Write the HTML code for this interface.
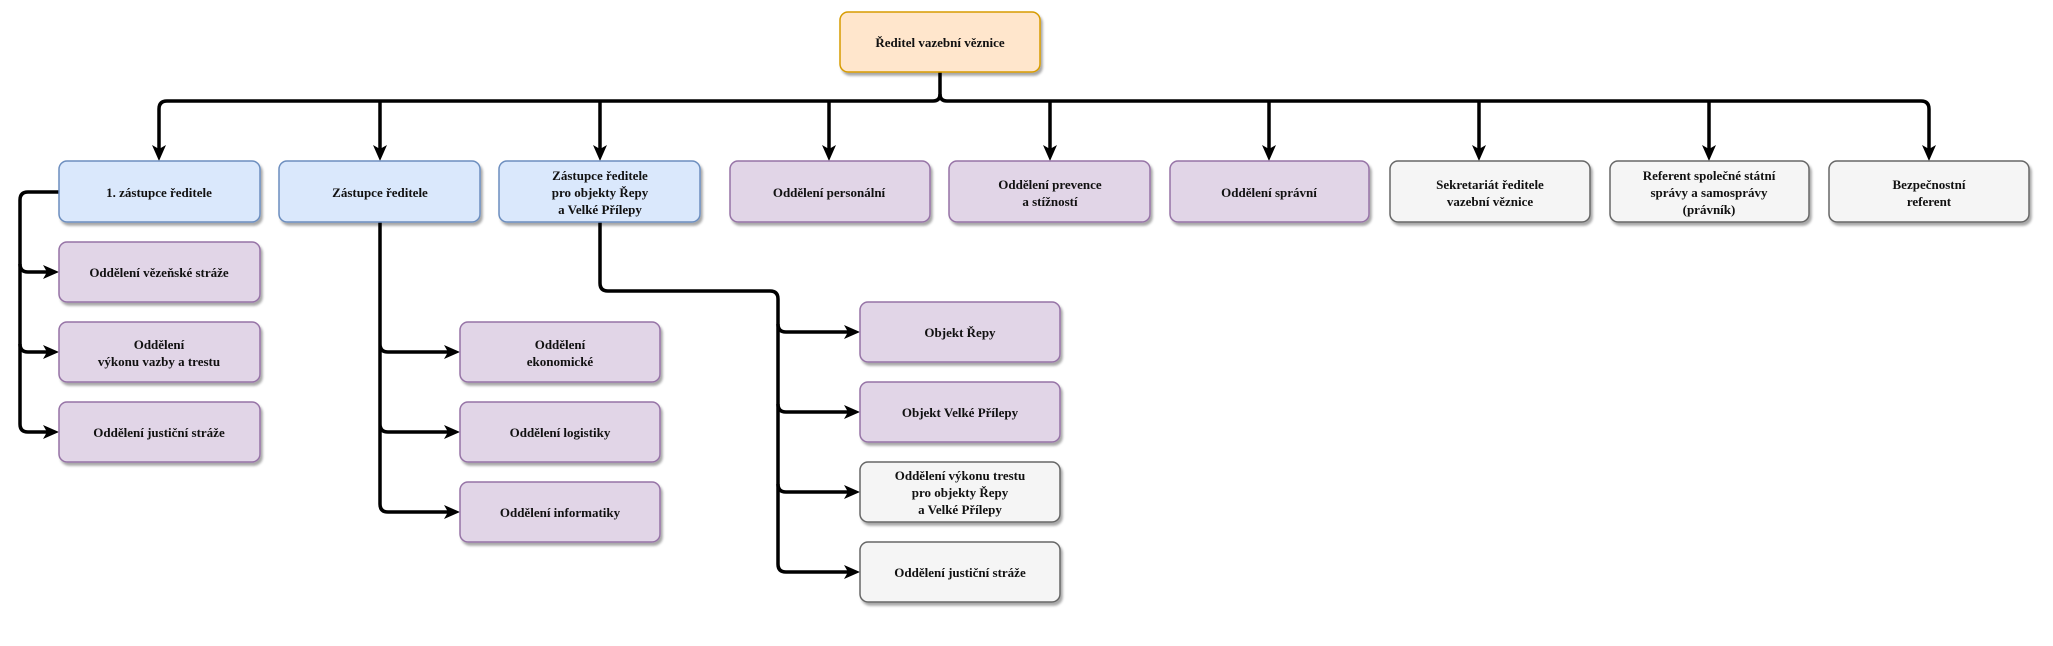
<!DOCTYPE html>
<html><head><meta charset="utf-8"><style>
html,body{margin:0;padding:0;background:#fff;width:2053px;height:646px;overflow:hidden}
text{font-family:"Liberation Serif",serif;font-weight:bold;font-size:13px;fill:#111;text-anchor:middle}
</style></head><body>
<svg width="2053" height="646" viewBox="0 0 2053 646" xmlns="http://www.w3.org/2000/svg">
<defs>
<marker id="a" markerWidth="10" markerHeight="10" refX="8" refY="5" orient="auto" markerUnits="userSpaceOnUse" viewBox="0 0 10 10">
</marker>
<filter id="s" x="-5%" y="-5%" width="115%" height="130%"><feDropShadow dx="2" dy="3" stdDeviation="1.2" flood-color="#000" flood-opacity="0.35"/></filter>
</defs>
<g fill="none" stroke="#000" stroke-width="3.5" stroke-linejoin="round">
<path d="M940 72 V94 Q940 101 933 101 H167 Q159 101 159 109 V152"/>
<path d="M940 94 Q940 101 947 101 H1921 Q1929 101 1929 109 V152"/>
<path d="M380 101 V152 M600 101 V152 M829 101 V152 M1050 101 V152 M1269 101 V152 M1479 101 V152 M1709 101 V152"/>
<path d="M59 192 H28 Q20 192 20 200 V424 Q20 432 28 432 H50"/>
<path d="M20 264 Q20 272 28 272 H50 M20 344 Q20 352 28 352 H50"/>
<path d="M380 222 V504 Q380 512 388 512 H451 M380 344 Q380 352 388 352 H451 M380 424 Q380 432 388 432 H451"/>
<path d="M600 222 V283 Q600 291 608 291 H770 Q778 291 778 299 V564 Q778 572 786 572 H851"/>
<path d="M778 324 Q778 332 786 332 H851 M778 404 Q778 412 786 412 H851 M778 484 Q778 492 786 492 H851"/>
</g>
<g fill="#000">
<path d="M159 161 l-7 -16 l7 4 l7 -4z"/><path d="M380 161 l-7 -16 l7 4 l7 -4z"/><path d="M600 161 l-7 -16 l7 4 l7 -4z"/>
<path d="M829 161 l-7 -16 l7 4 l7 -4z"/><path d="M1050 161 l-7 -16 l7 4 l7 -4z"/><path d="M1269 161 l-7 -16 l7 4 l7 -4z"/>
<path d="M1479 161 l-7 -16 l7 4 l7 -4z"/><path d="M1709 161 l-7 -16 l7 4 l7 -4z"/><path d="M1929 161 l-7 -16 l7 4 l7 -4z"/>
<path d="M59 272 l-16 -7 l4 7 l-4 7z"/><path d="M59 352 l-16 -7 l4 7 l-4 7z"/><path d="M59 432 l-16 -7 l4 7 l-4 7z"/>
<path d="M460 352 l-16 -7 l4 7 l-4 7z"/><path d="M460 432 l-16 -7 l4 7 l-4 7z"/><path d="M460 512 l-16 -7 l4 7 l-4 7z"/>
<path d="M860 332 l-16 -7 l4 7 l-4 7z"/><path d="M860 412 l-16 -7 l4 7 l-4 7z"/><path d="M860 492 l-16 -7 l4 7 l-4 7z"/><path d="M860 572 l-16 -7 l4 7 l-4 7z"/>
</g>
<g stroke-width="1.5" filter="url(#s)">
<rect x="840" y="12" width="200" height="60" rx="8" fill="#ffe6cc" stroke="#d79b00"/>
<rect x="59" y="161" width="201" height="61" rx="8" fill="#dae8fc" stroke="#6c8ebf"/>
<rect x="279" y="161" width="201" height="61" rx="8" fill="#dae8fc" stroke="#6c8ebf"/>
<rect x="499" y="161" width="201" height="61" rx="8" fill="#dae8fc" stroke="#6c8ebf"/>
<rect x="730" y="161" width="200" height="61" rx="8" fill="#e1d5e7" stroke="#9673a6"/>
<rect x="949" y="161" width="201" height="61" rx="8" fill="#e1d5e7" stroke="#9673a6"/>
<rect x="1170" y="161" width="199" height="61" rx="8" fill="#e1d5e7" stroke="#9673a6"/>
<rect x="1390" y="161" width="200" height="61" rx="8" fill="#f5f5f5" stroke="#666"/>
<rect x="1610" y="161" width="199" height="61" rx="8" fill="#f5f5f5" stroke="#666"/>
<rect x="1829" y="161" width="200" height="61" rx="8" fill="#f5f5f5" stroke="#666"/>
<rect x="59" y="242" width="201" height="60" rx="8" fill="#e1d5e7" stroke="#9673a6"/>
<rect x="59" y="322" width="201" height="60" rx="8" fill="#e1d5e7" stroke="#9673a6"/>
<rect x="59" y="402" width="201" height="60" rx="8" fill="#e1d5e7" stroke="#9673a6"/>
<rect x="460" y="322" width="200" height="60" rx="8" fill="#e1d5e7" stroke="#9673a6"/>
<rect x="460" y="402" width="200" height="60" rx="8" fill="#e1d5e7" stroke="#9673a6"/>
<rect x="460" y="482" width="200" height="60" rx="8" fill="#e1d5e7" stroke="#9673a6"/>
<rect x="860" y="302" width="200" height="60" rx="8" fill="#e1d5e7" stroke="#9673a6"/>
<rect x="860" y="382" width="200" height="60" rx="8" fill="#e1d5e7" stroke="#9673a6"/>
<rect x="860" y="462" width="200" height="60" rx="8" fill="#f5f5f5" stroke="#666"/>
<rect x="860" y="542" width="200" height="60" rx="8" fill="#f5f5f5" stroke="#666"/>
</g>
<text x="940" y="47">Ředitel vazební věznice</text>
<text x="159" y="197">1. zástupce ředitele</text>
<text x="380" y="197">Zástupce ředitele</text>
<text x="600" y="180">Zástupce ředitele</text><text x="600" y="197">pro objekty Řepy</text><text x="600" y="214">a Velké Přílepy</text>
<text x="829" y="197">Oddělení personální</text>
<text x="1050" y="189">Oddělení prevence</text><text x="1050" y="206">a stížností</text>
<text x="1269" y="197">Oddělení správní</text>
<text x="1490" y="189">Sekretariát ředitele</text><text x="1490" y="206">vazební věznice</text>
<text x="1709" y="180">Referent společné státní</text><text x="1709" y="197">správy a samosprávy</text><text x="1709" y="214">(právník)</text>
<text x="1929" y="189">Bezpečnostní</text><text x="1929" y="206">referent</text>
<text x="159" y="277">Oddělení vězeňské stráže</text>
<text x="159" y="349">Oddělení</text><text x="159" y="366">výkonu vazby a trestu</text>
<text x="159" y="437">Oddělení justiční stráže</text>
<text x="560" y="349">Oddělení</text><text x="560" y="366">ekonomické</text>
<text x="560" y="437">Oddělení logistiky</text>
<text x="560" y="517">Oddělení informatiky</text>
<text x="960" y="337">Objekt Řepy</text>
<text x="960" y="417">Objekt Velké Přílepy</text>
<text x="960" y="480">Oddělení výkonu trestu</text><text x="960" y="497">pro objekty Řepy</text><text x="960" y="514">a Velké Přílepy</text>
<text x="960" y="577">Oddělení justiční stráže</text>
</svg>
</body></html>
